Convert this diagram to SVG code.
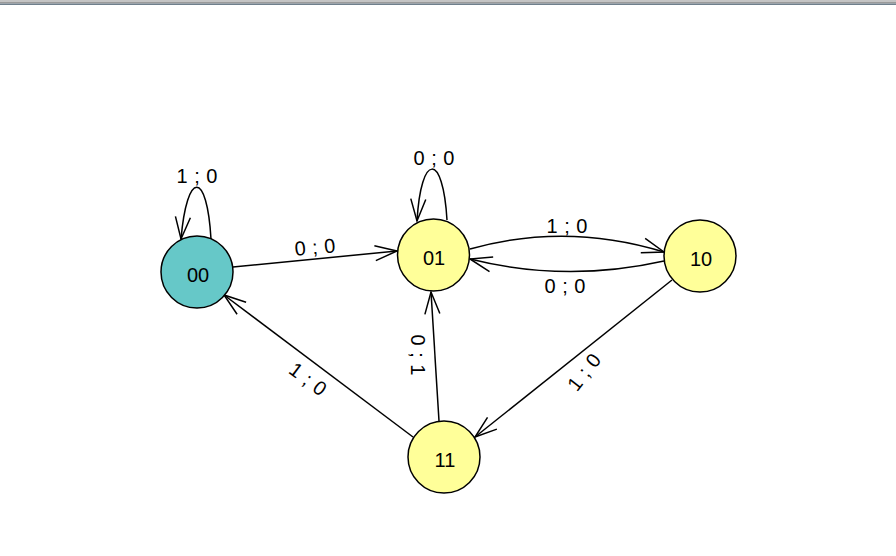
<svg xmlns="http://www.w3.org/2000/svg" width="896" height="556" viewBox="0 0 896 556">
<defs>
<marker id="arr" markerUnits="userSpaceOnUse" markerWidth="30" markerHeight="20" viewBox="-24 -10 30 20" refX="0" refY="0" orient="auto">
<path d="M-22,-7.5 L0,0 L-22,7.5" fill="none" stroke="#000" stroke-width="1.5"/>
</marker>
</defs>
<style>
.node circle{stroke:#000;stroke-width:1.5}
.s0 circle{fill:#66C8C8}
.sx circle{fill:#FFFF99}
text{font-family:"Liberation Sans",Arial,sans-serif;font-size:20px;fill:#000;text-anchor:middle}
.lbl{word-spacing:1px}
.edge{fill:none;stroke:#000;stroke-width:1.5;marker-end:url(#arr)}
</style>
<rect x="0" y="0" width="896" height="556" fill="#fff"/>
<rect x="0" y="0" width="896" height="2" fill="#c4c4c4"/>
<rect x="0" y="2" width="896" height="1.5" fill="#9a9a9a"/>
<rect x="0" y="3.5" width="896" height="1.5" fill="#6f7f8c"/>
<g id="connectors">
<path class="edge" d="M211,239 C207,170 187,170 181,239"/>
<text class="lbl" x="197" y="183">1 ; 0</text>
<path class="edge" d="M447,220 C443,152 421,152 417,221"/>
<text class="lbl" x="434" y="165">0 ; 0</text>
<path class="edge" d="M233,267 L397,251"/>
<text class="lbl" x="315" y="254" transform="rotate(-5 315 248)">0 ; 0</text>
<path class="edge" d="M470,249 Q566,222 664,252"/>
<text class="lbl" x="567" y="233">1 ; 0</text>
<path class="edge" d="M664,261 Q566,283 470,259"/>
<text class="lbl" x="565" y="293">0 ; 0</text>
<path class="edge" d="M672,280 L475,437"/>
<text class="lbl" x="584" y="379" transform="rotate(-52 584 372)">1 ; 0</text>
<path class="edge" d="M413,437 L224,295"/>
<text class="lbl" x="308" y="386" transform="rotate(37 308 379)">1 ; 0</text>
<path class="edge" d="M439,421 L431,292"/>
<text class="lbl" x="418" y="362" transform="rotate(90 418 355)">0 ; 1</text>
</g>
<g id="node-00" class="node s0"><circle cx="197" cy="272" r="36"/><text x="198" y="282">00</text></g>
<g id="node-01" class="node sx"><circle cx="433.5" cy="255" r="36"/><text x="434" y="265">01</text></g>
<g id="node-10" class="node sx"><circle cx="700" cy="256" r="36"/><text x="701" y="266">10</text></g>
<g id="node-11" class="node sx"><circle cx="444" cy="457" r="36"/><text x="445" y="467">11</text></g>
</svg>
